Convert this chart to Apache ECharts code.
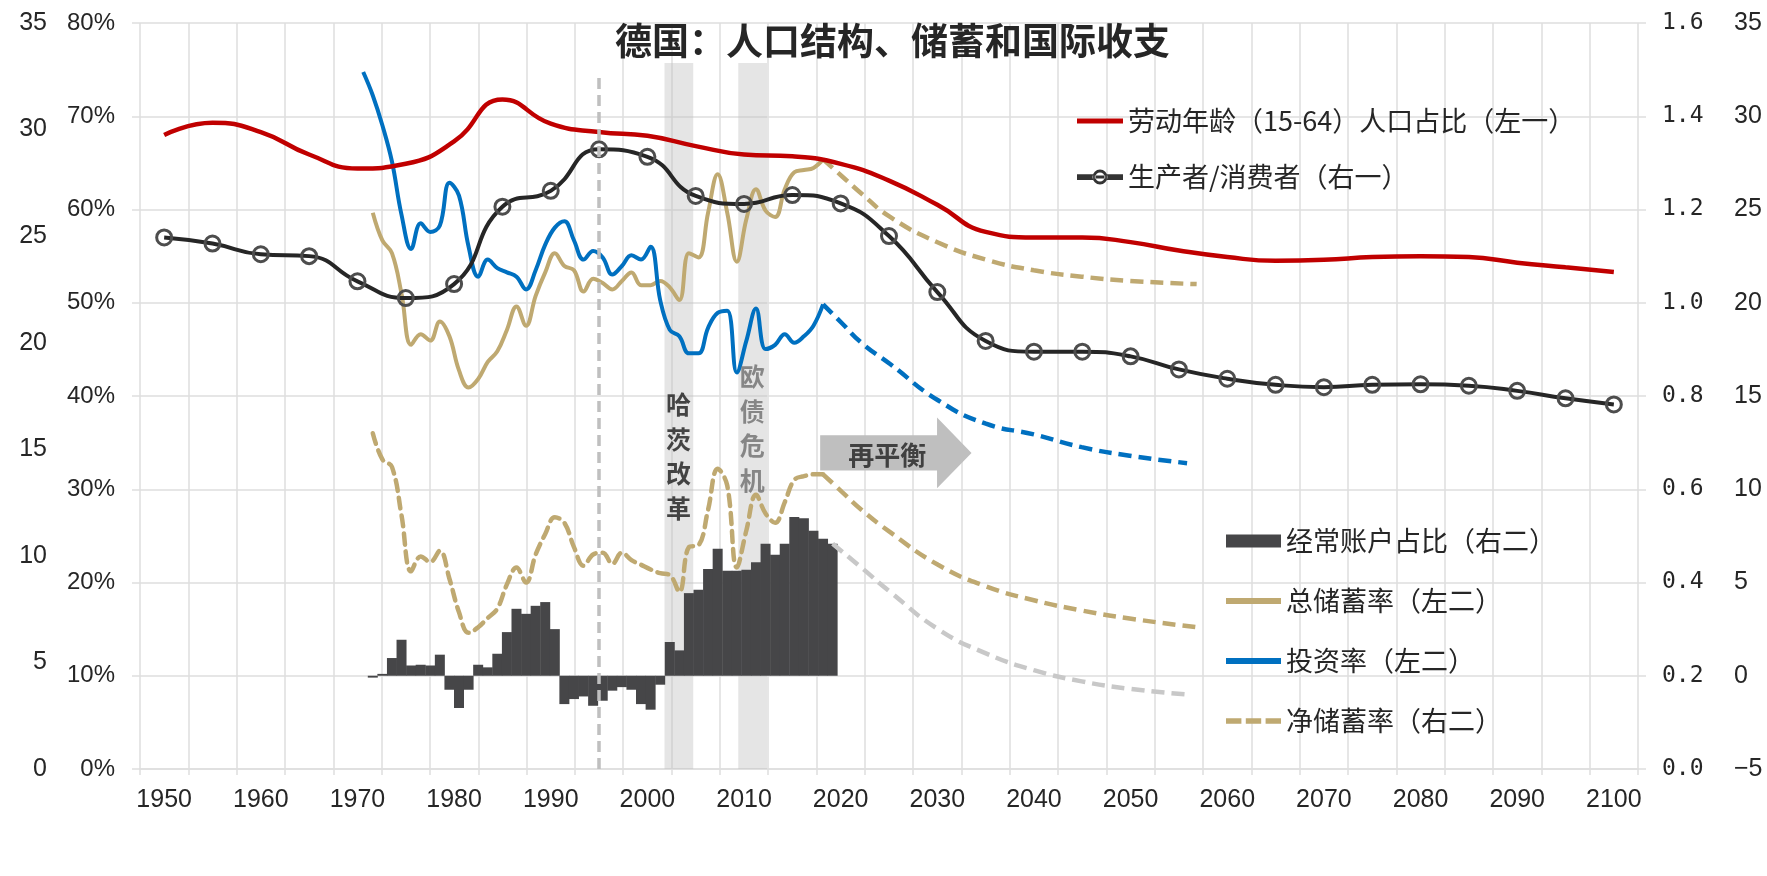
<!DOCTYPE html>
<html><head><meta charset="utf-8">
<script src="https://cdn.jsdelivr.net/npm/echarts@6/dist/echarts.min.js"></script>
<style>html,body{margin:0;padding:0;background:#fff}#c{width:1767px;height:876px}</style>
</head><body><div id="c"></div>
<script>
const TITLE = '德国：人口结构、储蓄和国际收支';
const X_TICK_LABELS = ['1950','1955','1960','1965','1970','1975','1980','1985','1990','1995','2000','2005','2010','2015','2020','2025','2030','2035','2040','2045','2050','2055','2060','2065','2070','2075','2080','2085','2090','2095','2100'];

// 5-year population series (main axis)
const POP_YEARS = [1950,1955,1960,1965,1970,1975,1980,1985,1990,1995,2000,2005,2010,2015,2020,2025,2030,2035,2040,2045,2050,2055,2060,2065,2070,2075,2080,2085,2090,2095,2100];
const WORKING_AGE_SHARE = [68.0,69.3,68.3,65.9,64.4,64.9,67.3,71.8,69.2,68.3,67.9,66.8,65.9,65.7,64.9,63.1,60.5,57.6,57.0,57.0,56.5,55.6,54.9,54.5,54.6,54.9,55.0,54.9,54.3,53.8,53.3];
const PRODUCER_CONSUMER = [1.140,1.127,1.104,1.100,1.046,1.010,1.040,1.206,1.240,1.329,1.313,1.229,1.212,1.231,1.213,1.143,1.023,0.918,0.895,0.895,0.885,0.857,0.837,0.824,0.819,0.824,0.825,0.822,0.811,0.795,0.782];

// annual series (secondary annual axis)
const INVEST_YEARS = [1970,1971,1972,1973,1974,1975,1976,1977,1978,1979,1980,1981,1982,1983,1984,1985,1986,1987,1988,1989,1990,1991,1992,1993,1994,1995,1996,1997,1998,1999,2000,2001,2002,2003,2004,2005,2006,2007,2008,2009,2010,2011,2012,2013,2014,2015,2016,2017,2018];
const INVESTMENT = [32.7,31.6,30.2,28.5,26.0,24.4,25.6,25.2,25.5,27.5,26.9,24.5,23.1,23.9,23.5,23.3,23.1,22.5,23.4,24.6,25.4,25.7,24.8,23.9,24.3,24.0,23.2,23.6,24.1,23.9,24.5,22.0,20.6,20.3,19.5,19.5,20.7,21.4,21.5,18.6,20.1,21.6,19.7,19.9,20.4,20.0,20.3,20.8,21.8];
const SAVING_YEARS = [1971,1972,1973,1974,1975,1976,1977,1978,1979,1980,1981,1982,1983,1984,1985,1986,1987,1988,1989,1990,1991,1992,1993,1994,1995,1996,1997,1998,1999,2000,2001,2002,2003,2004,2005,2006,2007,2008,2009,2010,2011,2012,2013,2014,2015,2016,2017,2018];
const GROSS_SAVING = [26.1,24.8,24.2,22.3,19.9,20.4,20.1,21.0,20.3,18.7,17.9,18.3,19.1,19.6,20.6,21.7,20.8,22.2,23.3,24.2,23.6,23.4,22.4,23.0,22.8,22.5,22.9,23.3,22.7,22.7,22.9,22.6,22.0,24.2,24.0,26.1,27.9,26.1,23.8,25.8,27.2,26.2,25.9,27.2,28.0,28.1,28.2,28.6];
const NET_SAVING = [13.0,11.6,11.2,8.6,5.6,6.4,6.1,6.7,5.2,3.4,2.3,2.6,3.1,3.6,4.9,5.8,5.0,6.5,7.6,8.5,8.2,6.9,5.9,6.5,6.6,6.0,6.6,6.2,5.95,5.7,5.5,5.4,4.5,6.9,7.0,8.9,11.1,10.2,5.8,7.8,9.7,8.7,8.2,9.3,10.5,10.7,10.8,10.8];
const CA_YEARS = [1971,1972,1973,1974,1975,1976,1977,1978,1979,1980,1981,1982,1983,1984,1985,1986,1987,1988,1989,1990,1991,1992,1993,1994,1995,1996,1997,1998,1999,2000,2001,2002,2003,2004,2005,2006,2007,2008,2009,2010,2011,2012,2013,2014,2015,2016,2017,2018,2019];
const CURRENT_ACCOUNT = [-0.1,0.1,0.95,1.93,0.55,0.59,0.55,1.13,-0.75,-1.73,-0.75,0.59,0.45,1.18,2.34,3.59,3.32,3.75,3.95,2.5,-1.52,-1.25,-1.11,-1.61,-1.34,-0.8,-0.61,-0.75,-1.52,-1.82,-0.48,1.81,1.36,4.43,4.61,5.72,6.81,5.63,5.63,5.68,6.09,7.08,6.49,7.08,8.51,8.45,7.77,7.35,7.08];

// projections (dashed)
const PROJ_YEARS = [2018,2020,2022,2025,2030,2035,2040,2045,2050,2057];
const GROSS_SAVING_PROJ = [28.6,27.8,27.0,25.9,24.7,23.9,23.4,23.1,22.9,22.75];
const NET_SAVING_PROJ = [10.8,9.85,8.9,7.7,5.95,4.8,4.05,3.5,3.07,2.6];
const INVEST_PROJ_YEARS = [2018,2020,2022,2025,2030,2035,2040,2045,2050,2056];
const INVEST_PROJ = [21.8,20.9,20.0,19.0,17.3,16.2,15.7,15.1,14.7,14.35];
const CA_PROJ_YEARS = [2019,2022,2025,2030,2035,2040,2045,2050,2056];
const CA_PROJ = [7.08,5.8,4.5,2.5,1.2,0.3,-0.3,-0.7,-1.0];

// annotations (in axis units)
const EVENT_1995 = 1995;
const SHADED_PERIODS = [[2001.45, 2004.45], [2009.15, 2012.15]];
const EVENT_LABELS = [['哈茨改革', 2002.9, 33.5], ['欧债危机', 2010.6, 36.5]];
const ARROW = [2017.7, 2029.9, 2033.5, 32.0, 35.8, 30.1, 37.7, 2024.7, 33.7];

const NAMES = {
  work: '劳动年龄（15-64）人口占比（左一）',
  pc: '生产者/消费者（右一）',
  ca: '经常账户占比（右二）',
  gs: '总储蓄率（左二）',
  inv: '投资率（左二）',
  ns: '净储蓄率（右二）'
};

const pairs = (xs, ys) => xs.map((x, i) => [x, ys[i]]);
const CJK = '"Noto Sans CJK SC", "Noto Sans", sans-serif';
const NUM = '"Liberation Sans", Arial, sans-serif';
const TXT = '#262626';
const GRID = '#dedede';
const GOLD = '#BFA971';
const BLUE = '#0070C0';
const RED = '#C00000';

const ICON_LINE = 'path://M0,0H100V11H0Z';
const ICON_DASH = 'path://M0,0H28V10H0Z M36,0H64V10H36Z M72,0H100V10H72Z';
const ICON_RING = 'path://M0,10H28V20H0Z M52,10H80V20H52Z ' +
  'M53,15A13,13 0 1,0 27,15A13,13 0 1,0 53,15Z M48,15A8,8 0 1,1 32,15A8,8 0 1,1 48,15Z M31,12.5H49V17.5H31Z';

const chart = echarts.init(document.getElementById('c'), null, {renderer: 'canvas'});
chart.setOption({
  animation: false,
  backgroundColor: '#fff',
  title: {
    text: TITLE, left: 615, top: 22, padding: 0,
    textStyle: {fontSize: 37, fontWeight: 'bold', color: TXT, fontFamily: CJK}
  },
  grid: {left: 140, right: 129, top: 23, bottom: 107, containLabel: false},
  legend: [
    {
      data: [
        {name: NAMES.work, icon: ICON_LINE, itemStyle: {color: RED, borderWidth: 0}},
        {name: NAMES.pc, icon: ICON_RING, itemStyle: {color: '#333333', borderWidth: 0}}
      ],
      orient: 'vertical', left: 1077, top: 106, padding: 0,
      itemWidth: 46, itemHeight: 17, itemGap: 26, selectedMode: false,
      textStyle: {fontSize: 27, lineHeight: 30, color: TXT, fontFamily: CJK}
    },
    {
      data: [
        {name: NAMES.ca, icon: 'rect', itemStyle: {color: '#464648', borderWidth: 0}},
        {name: NAMES.gs, icon: ICON_LINE, itemStyle: {color: GOLD, borderWidth: 0}},
        {name: NAMES.inv, icon: ICON_LINE, itemStyle: {color: BLUE, borderWidth: 0}},
        {name: NAMES.ns, icon: ICON_DASH, itemStyle: {color: GOLD, borderWidth: 0}}
      ],
      orient: 'vertical', left: 1226, top: 526, padding: 0,
      itemWidth: 55, itemHeight: 13, itemGap: 30, selectedMode: false,
      textStyle: {fontSize: 27, lineHeight: 30, color: TXT, fontFamily: CJK}
    }
  ],
  xAxis: [
    {type: 'value', min: 1947.5, max: 2102.5, show: false},
    {
      type: 'category', data: X_TICK_LABELS, boundaryGap: true, position: 'bottom',
      axisLine: {show: true, lineStyle: {color: GRID, width: 1.5}},
      axisTick: {show: true, interval: 0, length: 6, lineStyle: {color: GRID, width: 1.5}},
      axisLabel: {interval: 1, margin: 19, fontSize: 25, color: TXT, fontFamily: NUM},
      splitLine: {show: true, interval: 0, lineStyle: {color: GRID, width: 1.5}}
    },
    {type: 'value', min: 1946.70, max: 2103.07, show: false}
  ],
  yAxis: [
    {
      type: 'value', min: 0, max: 80, interval: 10, position: 'left',
      axisLine: {show: false},
      axisTick: {show: true, length: 8, lineStyle: {color: GRID, width: 1.5}},
      axisLabel: {formatter: '{value}%', margin: 25, fontSize: 24, color: TXT, fontFamily: NUM},
      splitLine: {show: true, lineStyle: {color: GRID, width: 1.5}}
    },
    {
      type: 'value', min: 0, max: 35, interval: 5, position: 'left', offset: 85,
      axisLine: {show: false}, axisTick: {show: false}, splitLine: {show: false},
      axisLabel: {margin: 8, fontSize: 25, color: TXT, fontFamily: NUM}
    },
    {
      type: 'value', min: 0, max: 1.6, interval: 0.2, position: 'right',
      axisLine: {show: false},
      axisTick: {show: true, length: 8, lineStyle: {color: GRID, width: 1.5}},
      splitLine: {show: false},
      axisLabel: {margin: 24, fontSize: 23, color: TXT, fontFamily: '"DejaVu Sans Mono", monospace',
        formatter: v => v.toFixed(1)}
    },
    {
      type: 'value', min: -5, max: 35, interval: 5, position: 'right', offset: 88,
      axisLine: {show: false}, axisTick: {show: false}, splitLine: {show: false},
      axisLabel: {margin: 8, fontSize: 25, color: TXT, fontFamily: NUM,
        formatter: v => (v < 0 ? '\u2212' + (-v) : String(v))}
    }
  ],
  series: [
    {
      name: NAMES.ca, type: 'bar', xAxisIndex: 2, yAxisIndex: 3,
      data: pairs(CA_YEARS, CURRENT_ACCOUNT), barWidth: 10,
      itemStyle: {color: '#464648'}, z: 2
    },
    {
      name: 'ca_proj', type: 'line', xAxisIndex: 2, yAxisIndex: 3, smooth: 0.5,
      data: pairs(CA_PROJ_YEARS, CA_PROJ), symbol: 'none',
      lineStyle: {color: '#C8C8C8', width: 4.5, type: [13, 7]}, z: 3
    },
    {
      name: NAMES.ns, type: 'line', xAxisIndex: 2, yAxisIndex: 3, smooth: 0.4,
      data: pairs(SAVING_YEARS, NET_SAVING), symbol: 'none', itemStyle: {color: GOLD},
      lineStyle: {color: GOLD, width: 4.5, type: [11, 7], cap: 'round'}, z: 3
    },
    {
      name: 'ns_proj', type: 'line', xAxisIndex: 2, yAxisIndex: 3, smooth: 0.5,
      data: pairs(PROJ_YEARS, NET_SAVING_PROJ), symbol: 'none',
      lineStyle: {color: GOLD, width: 4.5, type: [13, 7]}, z: 3
    },
    {
      name: NAMES.gs, type: 'line', xAxisIndex: 2, yAxisIndex: 1, smooth: 0.4,
      data: pairs(SAVING_YEARS, GROSS_SAVING), symbol: 'none', itemStyle: {color: GOLD},
      lineStyle: {color: GOLD, width: 4}, z: 3
    },
    {
      name: 'gs_proj', type: 'line', xAxisIndex: 2, yAxisIndex: 1, smooth: 0.5,
      data: pairs(PROJ_YEARS, GROSS_SAVING_PROJ), symbol: 'none',
      lineStyle: {color: GOLD, width: 4.5, type: [13, 7]}, z: 3
    },
    {
      name: NAMES.inv, type: 'line', xAxisIndex: 2, yAxisIndex: 1, smooth: 0.4,
      data: pairs(INVEST_YEARS, INVESTMENT), symbol: 'none', itemStyle: {color: BLUE},
      lineStyle: {color: BLUE, width: 4}, z: 3
    },
    {
      name: 'inv_proj', type: 'line', xAxisIndex: 2, yAxisIndex: 1, smooth: 0.5,
      data: pairs(INVEST_PROJ_YEARS, INVEST_PROJ), symbol: 'none',
      lineStyle: {color: BLUE, width: 4.5, type: [13, 7]}, z: 3
    },
    {
      name: NAMES.work, type: 'line', xAxisIndex: 0, yAxisIndex: 0, smooth: 0.5,
      data: pairs(POP_YEARS, WORKING_AGE_SHARE), symbol: 'none', itemStyle: {color: RED},
      lineStyle: {color: RED, width: 4.5}, z: 3
    },
    {
      name: NAMES.pc, type: 'line', xAxisIndex: 0, yAxisIndex: 2, smooth: 0.5,
      data: pairs(POP_YEARS, PRODUCER_CONSUMER), symbol: 'circle', symbolSize: 15, showSymbol: true,
      itemStyle: {color: 'rgba(255,255,255,0)', borderColor: '#4d4d4d', borderWidth: 3},
      lineStyle: {color: '#262626', width: 4}, z: 3
    },
    {
      name: 'event_line', type: 'line', xAxisIndex: 0, yAxisIndex: 0, data: [], z: 4,
      markLine: {
        silent: true, symbol: ['none', 'none'], label: {show: false},
        lineStyle: {color: '#bfbfbf', width: 3.5, type: [11, 6]},
        data: [[{coord: [EVENT_1995, 0]}, {coord: [EVENT_1995, 74.2]}]]
      }
    },
    {
      name: 'shade', type: 'line', xAxisIndex: 2, yAxisIndex: 0, data: [], z: 5,
      markArea: {
        silent: true, itemStyle: {color: 'rgba(190,190,190,0.4)'},
        data: SHADED_PERIODS.map(p => [{xAxis: p[0], yAxis: 0}, {xAxis: p[1], yAxis: 75.7}])
      }
    },
    {
      name: 'event_text', type: 'scatter', xAxisIndex: 2, yAxisIndex: 0, z: 6, silent: true,
      symbolSize: 1, itemStyle: {color: 'rgba(0,0,0,0)'},
      data: EVENT_LABELS.map((e, i) => ({
        value: [e[1], e[2]],
        label: {show: true, position: 'inside', formatter: e[0].split('').join('\n'),
          fontSize: 25, lineHeight: 34.5, fontFamily: CJK, fontWeight: 'bold',
          color: i === 0 ? '#1a1a1a' : '#6e6e6e'}
      }))
    },
    {
      name: 'arrow', type: 'custom', xAxisIndex: 2, yAxisIndex: 0, z: 6, silent: true,
      data: [ARROW],
      renderItem: (params, api) => {
        const v = i => api.value(i);
        const p = (x, y) => api.coord([x, y]);
        const x0 = v(0), x1 = v(1), xt = v(2), yb = v(3), yt = v(4), hb = v(5), ht = v(6);
        const mid = (yb + yt) / 2;
        const tc = p(v(7), v(8));
        return {
          type: 'group',
          children: [
            {type: 'polygon', shape: {points: [p(x0, yt), p(x1, yt), p(x1, ht), p(xt, mid), p(x1, hb), p(x1, yb), p(x0, yb)]},
              style: {fill: '#bfbfbf'}},
            {type: 'text', style: {text: '再平衡', x: tc[0], y: tc[1], align: 'center', verticalAlign: 'middle',
              fill: '#404040', fontSize: 26, fontWeight: 'bold', fontFamily: CJK}}
          ]
        };
      }
    }
  ]
});
</script>
</body></html>
